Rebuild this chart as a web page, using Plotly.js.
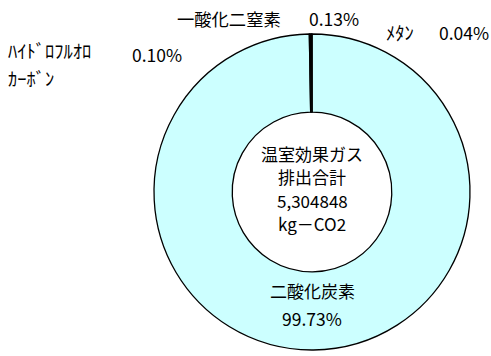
<!DOCTYPE html>
<html>
<head>
<meta charset="utf-8">
<script src="https://cdn.plot.ly/plotly-3.0.1.min.js"></script>
<style>
  html, body { margin: 0; padding: 0; background: #fff; }
  #chart { width: 491px; height: 356px; }
</style>
</head>
<body>
<div id="chart"></div>
<script>
// Greenhouse gas emissions breakdown (share of total, %)
const gases = ['二酸化炭素', 'ﾊｲﾄﾞﾛﾌﾙｵﾛｶｰﾎﾞﾝ', '一酸化二窒素', 'ﾒﾀﾝ'];
const shares = [99.73, 0.10, 0.13, 0.04];
const centerLines = ['温室効果ガス', '排出合計', '5,304848', 'kg－CO2'];

const W = 491, H = 356;
const FONT = '"Noto Sans CJK JP", "Noto Sans", sans-serif';
const px = (x) => x / W;
const py = (y) => 1 - y / H;
const pct = (v) => v.toFixed(2) + '%';

const trace = {
  type: 'pie',
  labels: gases,
  values: shares,
  sort: false,
  direction: 'clockwise',
  rotation: 0,
  hole: 0.505,
  textinfo: 'none',
  hoverinfo: 'label+percent',
  marker: {
    colors: gases.map(() => '#CCFFFF'),
    line: { color: '#000000', width: 1.3 }
  },
  domain: { x: [px(154), px(470)], y: [py(350), py(34)] },
  showlegend: false
};

function label(text, x, y, size, xanchor) {
  return {
    text: text, x: px(x), y: py(y), xref: 'paper', yref: 'paper',
    xanchor: xanchor || 'left', yanchor: 'middle', showarrow: false,
    font: { family: FONT, size: size, color: '#000' }
  };
}

const annotations = [
  // slice labels
  label(gases[0], 312, 290, 17, 'center'),
  label(pct(shares[0]), 312, 318, 17.5, 'center'),
  label(gases[2], 175, 19, 17.3),
  label(pct(shares[2]), 307, 19, 17.5),
  label('ﾒﾀﾝ', 384, 32, 18.5),
  label(pct(shares[3]), 437, 32, 17.5),
  label('ﾊｲﾄﾞﾛﾌﾙｵﾛ', 6, 50, 18.5),
  label('ｶｰﾎﾞﾝ', 6, 78, 18.5),
  label(pct(shares[1]), 130, 54, 17.5)
];
// total inside the hole
centerLines.forEach((t, i) => {
  annotations.push(label(t, 312, 153 + i * 23.5, 17, 'center'));
});

Plotly.newPlot('chart', [trace], {
  width: W, height: H,
  margin: { l: 0, r: 0, t: 0, b: 0 },
  paper_bgcolor: '#ffffff',
  plot_bgcolor: '#ffffff',
  annotations: annotations
}, { displayModeBar: false, staticPlot: true });
</script>
</body>
</html>
